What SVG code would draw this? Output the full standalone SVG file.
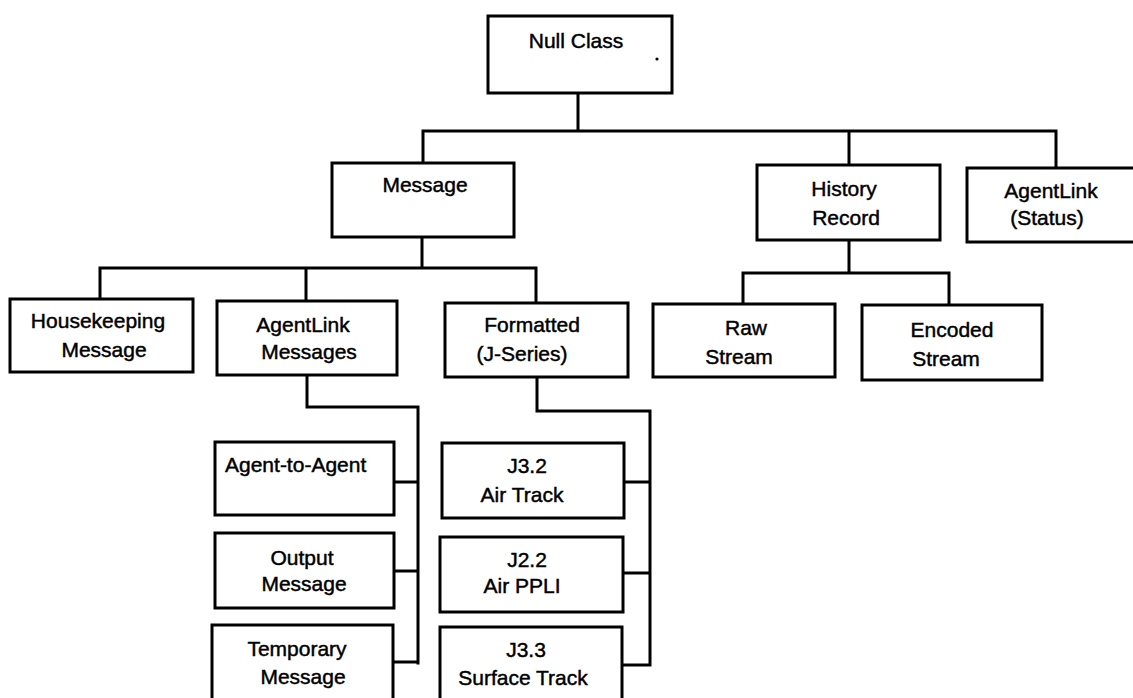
<svg xmlns="http://www.w3.org/2000/svg" width="1133" height="698" viewBox="0 0 1133 698">
<style>
.box{fill:#fff;stroke:#000;stroke-width:3}
.lbl{font-family:"Liberation Sans",Arial,sans-serif;font-size:21px;fill:#000;stroke:#000;stroke-width:0.45;text-anchor:middle}
.conn path{fill:none;stroke:#000;stroke-width:3;stroke-linecap:square;stroke-linejoin:miter}
</style>
<rect width="1133" height="698" fill="#fff"/>
<g id="connectors" class="conn">
<path d="M578,93 V131 M423,131 H1056 M423,131 V163 M849,131 V165 M1056,131 V168"/>
<path d="M422,237 V268 M100,268 H536 M100,268 V299 M306,268 V301 M536,268 V303"/>
<path d="M849,240 V273 M743,273 H949 M743,273 V304 M949,273 V305"/>
<path d="M307,375 V407 H418 V663 M394,482 H418 M394,571 H418 M393,662 H418"/>
<path d="M537,377 V411 H650 V665 M624,482 H650 M623,573 H650 M622,665 H650"/>
</g>
<g id="null-class">
<rect class="box" x="488" y="16" width="184" height="77"/>
<text class="lbl" x="576" y="48">Null Class</text>
<circle cx="657" cy="59" r="1.6" fill="#000"/>
</g>
<g id="message">
<rect class="box" x="332" y="163" width="182" height="74"/>
<text class="lbl" x="425" y="192">Message</text>
</g>
<g id="history-record">
<rect class="box" x="757" y="165" width="183" height="75"/>
<text class="lbl" x="844" y="196">History</text>
<text class="lbl" x="846" y="225">Record</text>
</g>
<g id="agentlink-status">
<rect class="box" x="967" y="168" width="180" height="74"/>
<text class="lbl" x="1051" y="198">AgentLink</text>
<text class="lbl" x="1047" y="225">(Status)</text>
</g>
<g id="housekeeping-message">
<rect class="box" x="10" y="299" width="183" height="73"/>
<text class="lbl" x="98" y="328">Housekeeping</text>
<text class="lbl" x="104" y="357">Message</text>
</g>
<g id="agentlink-messages">
<rect class="box" x="217" y="301" width="180" height="74"/>
<text class="lbl" x="303" y="332">AgentLink</text>
<text class="lbl" x="309" y="359">Messages</text>
</g>
<g id="formatted-j-series">
<rect class="box" x="445" y="303" width="183" height="74"/>
<text class="lbl" x="532" y="332">Formatted</text>
<text class="lbl" x="522" y="361">(J-Series)</text>
</g>
<g id="raw-stream">
<rect class="box" x="653" y="304" width="182" height="73"/>
<text class="lbl" x="746" y="335">Raw</text>
<text class="lbl" x="739" y="364">Stream</text>
</g>
<g id="encoded-stream">
<rect class="box" x="862" y="305" width="180" height="75"/>
<text class="lbl" x="952" y="337">Encoded</text>
<text class="lbl" x="946" y="366">Stream</text>
</g>
<g id="agent-to-agent">
<rect class="box" x="215" y="442" width="179" height="73"/>
<text class="lbl" x="225" y="472" style="text-anchor:start">Agent-to-Agent</text>
</g>
<g id="output-message">
<rect class="box" x="215" y="533" width="179" height="75"/>
<text class="lbl" x="302" y="565">Output</text>
<text class="lbl" x="304" y="591">Message</text>
</g>
<g id="temporary-message">
<rect class="box" x="212" y="625" width="181" height="80"/>
<text class="lbl" x="297" y="656">Temporary</text>
<text class="lbl" x="303" y="684">Message</text>
</g>
<g id="j32-air-track">
<rect class="box" x="442" y="443" width="182" height="75"/>
<text class="lbl" x="527" y="473">J3.2</text>
<text class="lbl" x="522" y="502">Air Track</text>
</g>
<g id="j22-air-ppli">
<rect class="box" x="440" y="537" width="183" height="75"/>
<text class="lbl" x="527" y="567">J2.2</text>
<text class="lbl" x="522" y="593">Air PPLI</text>
</g>
<g id="j33-surface-track">
<rect class="box" x="440" y="627" width="182" height="80"/>
<text class="lbl" x="526" y="657">J3.3</text>
<text class="lbl" x="523" y="685">Surface Track</text>
</g>
</svg>
